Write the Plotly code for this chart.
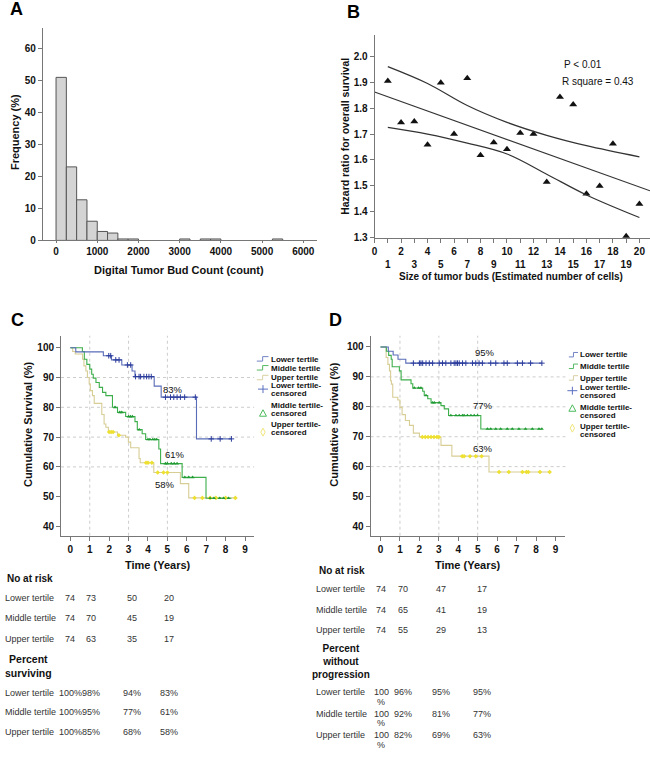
import numpy as np
import plotly.graph_objects as go

W, H = 650, 757
FONT = "Arial, 'Liberation Sans', sans-serif"

# ---------------- Panel A: histogram ----------------
bin_left = [0, 250, 500, 750, 1000, 1250, 1500, 1750, 3000, 3500, 3750, 5250]
bin_freq = [51.0, 23.0, 12.7, 6.0, 2.8, 2.3, 0.45, 0.45, 0.45, 0.45, 0.45, 0.45]
BIN_WIDTH = 250

# ---------------- Panel B: scatter + regression ----------------
bud_size = list(range(1, 21))
hazard_ratio = [1.905, 1.745, 1.748, 1.659, 1.898, 1.700, 1.915, 1.618, 1.667, 1.641,
                1.704, 1.700, 1.515, 1.843, 1.814, 1.470, 1.500, 1.663, 1.306, 1.430]
fit_x = [0, 20.8]
fit_y = [1.862, 1.481]
ci_x = [1, 4, 7, 10, 13, 16, 20]
ci_upper = [1.960, 1.895, 1.810, 1.745, 1.695, 1.655, 1.612]
ci_lower = [1.726, 1.700, 1.665, 1.623, 1.545, 1.465, 1.378]

# ---------------- Panel C: overall survival KM ----------------
c_low_t = [0, 0.28, 1.70, 2.12, 2.65, 3.18, 3.33, 4.32, 4.68, 6.50, 8.30]
c_low_s = [100, 98.6, 97.3, 95.9, 94.2, 92.2, 90.3, 87.1, 83.4, 69.4, 69.4]
c_low_cens = [1.98, 2.08, 2.34, 2.51, 2.94, 3.11, 3.36, 3.54, 3.62, 3.79, 3.93, 4.05, 4.17,
              4.90, 5.16, 5.33, 5.50, 5.67, 5.89, 6.44, 7.26, 7.72, 8.30]
c_mid_t = [0, 0.62, 0.72, 0.85, 1.00, 1.10, 1.18, 1.32, 1.49, 1.66, 1.83, 2.17, 2.43, 2.85,
           3.33, 3.45, 3.70, 3.88, 4.56, 4.65, 5.76, 6.99, 8.30]
c_mid_s = [100, 98.7, 96.1, 94.4, 92.8, 91.1, 89.8, 88.3, 86.7, 85.0, 83.9, 80.0, 78.3, 76.9,
           75.2, 72.5, 71.1, 69.2, 66.0, 61.1, 56.5, 49.5, 49.5]
c_mid_cens = [2.30, 2.55, 2.65, 3.00, 3.10, 3.20, 3.55, 4.00, 4.10, 4.25, 4.35, 4.45, 4.90,
              5.00, 5.20, 5.35, 5.50, 5.90, 6.10, 6.30, 7.20, 7.40, 7.70, 7.90, 8.15]
c_up_t = [0, 0.12, 0.25, 0.63, 0.70, 0.80, 0.88, 0.97, 1.03, 1.14, 1.23, 1.62, 1.74, 1.83,
          1.96, 2.43, 2.85, 2.99, 3.11, 3.54, 3.60, 4.30, 5.67, 6.10, 8.60]
c_up_s = [100, 98.7, 97.9, 96.1, 93.9, 92.2, 90.0, 87.8, 85.6, 83.9, 81.3, 77.6, 74.4, 73.3,
          71.7, 70.6, 70.0, 68.3, 66.4, 62.8, 61.4, 58.1, 54.4, 49.6, 49.6]
c_up_cens = [2.00, 2.10, 2.20, 2.50, 3.90, 4.00, 4.20, 4.50, 4.80, 5.00, 6.40, 6.80, 7.20,
             7.50, 8.00, 8.50]

# ---------------- Panel D: progression-free KM ----------------
d_low_t = [0, 0.40, 0.65, 0.90, 1.30, 8.30]
d_low_s = [100, 98.6, 97.3, 95.9, 94.6, 94.6]
d_low_cens = [1.69, 2.00, 2.08, 2.17, 2.34, 2.51, 2.68, 3.02, 3.19, 3.36, 3.62, 3.79, 3.88,
              3.96, 4.05, 4.22, 4.39, 4.73, 4.90, 5.07, 5.24, 5.67, 5.93, 6.35, 6.52, 7.04,
              7.30, 7.72, 8.30]
d_mid_t = [0, 0.30, 0.42, 0.55, 0.60, 0.97, 1.06, 1.57, 1.66, 2.17, 2.25, 2.43, 2.60, 3.11,
           3.28, 3.50, 5.16, 8.30]
d_mid_s = [100, 98.6, 97.2, 95.9, 93.4, 92.0, 89.0, 87.7, 86.3, 85.2, 83.8, 82.7, 81.4, 80.4,
           79.3, 77.1, 72.6, 72.6]
d_mid_cens = [1.74, 1.96, 2.08, 2.34, 2.68, 2.77, 3.02, 3.62, 3.88, 4.05, 4.22, 4.30, 4.47,
              4.65, 4.82, 4.99, 5.50, 5.67, 5.93, 6.18, 6.52, 6.78, 7.12, 7.46, 7.81, 8.15, 8.30]
d_up_t = [0, 0.29, 0.38, 0.46, 0.52, 0.56, 0.63, 0.89, 1.00, 1.11, 1.28, 1.49, 1.69, 2.00,
          3.11, 3.67, 5.58, 8.70]
d_up_s = [100, 96.5, 94.2, 92.0, 88.7, 87.6, 83.2, 82.3, 79.8, 77.4, 75.4, 73.8, 71.2, 69.9,
          67.1, 63.5, 58.2, 58.2]
d_up_cens = [2.15, 2.30, 2.45, 2.60, 2.75, 2.90, 3.00, 4.20, 4.30, 4.60, 4.90, 5.20, 6.10,
             6.60, 7.30, 7.50, 7.60, 8.20, 8.70]

# ---------------- tables ----------------
risk_times = [0, 1, 3, 5]
tertile_names = ["Lower tertile", "Middle tertile", "Upper tertile"]
c_at_risk = [[74, 73, 50, 20], [74, 70, 45, 19], [74, 63, 35, 17]]
c_pct = [["100%", "98%", "94%", "83%"], ["100%", "95%", "77%", "61%"], ["100%", "85%", "68%", "58%"]]
d_at_risk = [[74, 70, 47, 17], [74, 65, 41, 19], [74, 55, 29, 13]]
d_pct = [["100%", "96%", "95%", "95%"], ["100%", "92%", "81%", "77%"], ["100%", "82%", "69%", "63%"]]
c_end_labels = ["83%", "61%", "58%"]
c_end_pos = [(5.3, 86.0), (5.4, 64.3), (4.9, 54.0)]
d_end_labels = ["95%", "77%", "63%"]
d_end_pos = [(5.36, 98.1), (5.26, 80.5), (5.26, 66.2)]

BLUE_L, BLUE_M = "#5a6cb8", "#2b3c9c"
GREEN_L, GREEN_M = "#3cae4a", "#1f9a32"
TAN_L, YEL_M = "#d7cd95", "#ede031"


def px(x):
    return x / W


def py(y):
    return 1 - y / H


def step_val(times, surv, t):
    i = int(np.searchsorted(times, t, side="right")) - 1
    return surv[max(i, 0)]


fig = go.Figure()

# A
fig.add_trace(go.Bar(x=bin_left, y=bin_freq, width=BIN_WIDTH, offset=0,
                     marker=dict(color="#d4d4d4", line=dict(color="#555555", width=1)),
                     xaxis="x", yaxis="y", showlegend=False))

# B
fig.add_trace(go.Scatter(x=bud_size, y=hazard_ratio, mode="markers",
                         marker=dict(symbol="triangle-up", size=7, color="#111111"),
                         xaxis="x2", yaxis="y2", showlegend=False))
fig.add_trace(go.Scatter(x=fit_x, y=fit_y, mode="lines", line=dict(color="#333333", width=1.2),
                         xaxis="x2", yaxis="y2", showlegend=False))
for ci in (ci_upper, ci_lower):
    fig.add_trace(go.Scatter(x=ci_x, y=ci, mode="lines",
                             line=dict(color="#333333", width=1.2, shape="spline", smoothing=1.0),
                             xaxis="x2", yaxis="y2", showlegend=False))

# C and D KM curves
km_sets = [
    ("x3", "y3", [(c_low_t, c_low_s, c_low_cens, BLUE_L, BLUE_M, "cross-thin"),
                  (c_mid_t, c_mid_s, c_mid_cens, GREEN_L, GREEN_M, "triangle-up"),
                  (c_up_t, c_up_s, c_up_cens, TAN_L, YEL_M, "diamond")]),
    ("x4", "y4", [(d_low_t, d_low_s, d_low_cens, BLUE_L, BLUE_M, "cross-thin"),
                  (d_mid_t, d_mid_s, d_mid_cens, GREEN_L, GREEN_M, "triangle-up"),
                  (d_up_t, d_up_s, d_up_cens, TAN_L, YEL_M, "diamond")]),
]
for xa, ya, sets in km_sets:
    for (tt, ss, cens, lc, mc, sym) in reversed(sets):
        fig.add_trace(go.Scatter(x=tt, y=ss, mode="lines", line=dict(color=lc, width=1.1, shape="hv"),
                                 xaxis=xa, yaxis=ya, showlegend=False))
    for (tt, ss, cens, lc, mc, sym) in reversed(sets):
        cy = [step_val(tt, ss, c) for c in cens]
        if sym == "cross-thin":
            mk = dict(symbol=sym, size=4, line=dict(color=mc, width=1), color=mc)
        else:
            mk = dict(symbol=sym, size=3.5, color=mc, line=dict(width=0))
        fig.add_trace(go.Scatter(x=cens, y=cy, mode="markers", marker=mk,
                                 xaxis=xa, yaxis=ya, showlegend=False))

tick_font = dict(family=FONT, size=10, color="#111111", weight="bold")
axis_common = dict(showline=True, linecolor="#777777", linewidth=1, ticks="outside", ticklen=4,
                   tickcolor="#777777", showgrid=False, zeroline=False, tickfont=tick_font,
                   tickangle=0, ticklabeloverflow="allow")
axis_a_x = dict(axis_common)
axis_a_x["ticklen"] = 2

b_ticktext = [str(v) if v % 2 == 0 else "<br>" + str(v) for v in range(0, 21)]

fig.update_layout(
    width=W, height=H, margin=dict(l=0, r=0, t=0, b=0), autosize=False,
    paper_bgcolor="white", plot_bgcolor="white", showlegend=False,
    xaxis=dict(domain=[px(40), px(315)], range=[-321, 6321], anchor="y",
               tickvals=[0, 1000, 2000, 3000, 4000, 5000, 6000], **axis_a_x),
    yaxis=dict(domain=[py(242), py(28)], range=[0, 66.5], anchor="x",
               tickvals=[0, 10, 20, 30, 40, 50, 60], **axis_common),
    xaxis2=dict(domain=[px(373.3), px(650)], range=[0, 20.8], anchor="y2",
                tickvals=list(range(0, 21)), ticktext=b_ticktext, **axis_common),
    yaxis2=dict(domain=[py(239.3), py(35)], range=[1.3, 2.083], anchor="x2",
                tickvals=[1.3, 1.4, 1.5, 1.6, 1.7, 1.8, 1.9, 2.0], tickformat=".1f", **axis_common),
    xaxis3=dict(domain=[px(58.3), px(252.3)], range=[-0.48, 9.47], anchor="y3",
                tickvals=list(range(0, 10)), **axis_common),
    yaxis3=dict(domain=[py(539.3), py(338)], range=[36.9, 104], anchor="x3",
                tickvals=[40, 50, 60, 70, 80, 90, 100], **axis_common),
    xaxis4=dict(domain=[px(369.3), px(565)], range=[-0.51, 9.51], anchor="y4",
                tickvals=list(range(0, 10)), **axis_common),
    yaxis4=dict(domain=[py(539.3), py(338)], range=[36.9, 103.75], anchor="x4",
                tickvals=[40, 50, 60, 70, 80, 90, 100], **axis_common),
)

shapes = []
annotations = []

# dotted reference grid in C and D
grid_times = [1, 3, 5]
grid_surv = [60, 70, 80, 90]
for xa, ya in (("x3", "y3"), ("x4", "y4")):
    for g in grid_times:
        shapes.append(dict(type="line", xref=xa, yref=ya + " domain", x0=g, x1=g, y0=0, y1=1,
                           line=dict(color="#cccccc", width=1, dash="dot"), layer="below"))
    for g in grid_surv:
        shapes.append(dict(type="line", xref=xa + " domain", yref=ya, x0=0, x1=1, y0=g, y1=g,
                           line=dict(color="#cccccc", width=1, dash="dot"), layer="below"))


def txt(x, y, s, size=9, bold=False, anchor="left", color="#222222", angle=0, yanchor="middle"):
    annotations.append(dict(x=px(x), y=py(y), xref="paper", yref="paper", text=s, showarrow=False,
                            xanchor=anchor, yanchor=yanchor, textangle=angle, borderpad=0,
                            font=dict(family=FONT, size=size, color=color,
                                      weight="bold" if bold else "normal")))


# panel letters
txt(13.5, 9, "A", size=18, bold=True, anchor="center", color="#000000")
txt(351.7, 12, "B", size=18, bold=True, anchor="center", color="#000000")
txt(15, 322, "C", size=18, bold=True, anchor="center", color="#000000")
txt(334, 322, "D", size=18, bold=True, anchor="center", color="#000000")

# axis titles
txt(177, 272, "Digital Tumor Bud Count (count)", size=11, bold=True, anchor="center", color="#111111")
txt(12, 133, "Frequency (%)", size=11, bold=True, anchor="center", color="#111111", angle=-90)
txt(510.5, 278, "Size of tumor buds (Estimated number of cells)", size=10, bold=True,
    anchor="center", color="#111111")
txt(343.3, 137, "Hazard ratio for overall survival", size=10.5, bold=True, anchor="center",
    color="#111111", angle=-90)
txt(563, 65, "P &lt; 0.01", size=10, anchor="left", color="#111111")
txt(561, 82, "R square = 0.43", size=10, anchor="left", color="#111111")

txt(25, 427, "Cumulative Survival (%)", size=11, bold=True, anchor="center", color="#111111", angle=-90)
txt(155.8, 569, "Time (Years)", size=11, bold=True, anchor="center", color="#111111")
txt(333, 427, "Cumulative survival (%)", size=11, bold=True, anchor="center", color="#111111", angle=-90)
txt(467, 569, "Time (Years)", size=11, bold=True, anchor="center", color="#111111")

# end-of-curve percentages
for xa, ya, labs, pos in (("x3", "y3", c_end_labels, c_end_pos), ("x4", "y4", d_end_labels, d_end_pos)):
    for lab, (tx, sy) in zip(labs, pos):
        annotations.append(dict(x=tx, y=sy, xref=xa, yref=ya, text=lab, showarrow=False,
                                xanchor="center", yanchor="middle",
                                font=dict(family=FONT, size=9.5, color="#111111")))

# legends (drawn as text + icons)
leg_names = ["Lower tertile", "Middle tertile", "Upper tertile"]
leg_cens = [("Lower tertile-", "censored"), ("Middle tertile-", "censored"), ("Upper tertile-", "censored")]
leg_line_cols = ["#7283c4", "#55b962", "#d8d0a2"]
leg_mark_cols = ["#5b6fc0", "#4cbb5c", "#f0e67a"]


def legend(text_x, line_ys, icon_x0, icon_x1, mark_x, mark_ys):
    for i, nm in enumerate(leg_names):
        txt(text_x, line_ys[i], nm, size=8, bold=True, color="#111111")
        y = line_ys[i]
        xm = (icon_x0 + icon_x1) / 2
        path = "M {} {} L {} {} L {} {} L {} {}".format(
            px(icon_x0), py(y + 2), px(xm), py(y + 2), px(xm), py(y - 2.5), px(icon_x1), py(y - 2.5))
        shapes.append(dict(type="path", xref="paper", yref="paper", path=path,
                           line=dict(color=leg_line_cols[i], width=1)))
    for i, (l1, l2) in enumerate(leg_cens):
        txt(text_x, line_ys[3 + 2 * i], l1, size=8, bold=True, color="#111111")
        txt(text_x, line_ys[4 + 2 * i], l2, size=8, bold=True, color="#111111")
    mx, my = mark_x, mark_ys[0]
    shapes.append(dict(type="line", xref="paper", yref="paper", x0=px(mx - 5), x1=px(mx + 5),
                       y0=py(my), y1=py(my), line=dict(color=leg_mark_cols[0], width=1)))
    shapes.append(dict(type="line", xref="paper", yref="paper", x0=px(mx), x1=px(mx),
                       y0=py(my - 4), y1=py(my + 4), line=dict(color=leg_mark_cols[0], width=1)))
    my = mark_ys[1]
    path = "M {} {} L {} {} L {} {} Z".format(px(mx - 3.5), py(my + 3), px(mx + 3.5), py(my + 3),
                                              px(mx), py(my - 3.5))
    shapes.append(dict(type="path", xref="paper", yref="paper", path=path,
                       line=dict(color=leg_mark_cols[1], width=1)))
    my = mark_ys[2]
    path = "M {} {} L {} {} L {} {} L {} {} Z".format(px(mx), py(my - 4), px(mx + 2.2), py(my),
                                                      px(mx), py(my + 4), px(mx - 2.2), py(my))
    shapes.append(dict(type="path", xref="paper", yref="paper", path=path,
                       line=dict(color=leg_mark_cols[2], width=1)))


legend(268.3, [361.5, 370.5, 380.3, 387.6, 396.2, 408.2, 416.3, 427.5, 435.5],
       255, 266.7, 261.2, [391.7, 416, 435])
legend(578.3, [357.3, 369, 380.7, 389.8, 397.8, 410.6, 418.4, 429.6, 437.5],
       568.5, 577.7, 572, [393.3, 411, 431])

# tables
c_cols = [67.5, 88.5, 130, 167]
d_cols = [380, 402, 440, 481]

txt(3, 582, "No at risk", size=10, bold=True, color="#111111")
for i, nm in enumerate(tertile_names):
    y = [602, 622, 643][i]
    txt(1, y, nm, size=9, color="#333333")
    for j in range(len(risk_times)):
        txt(c_cols[j], y, str(c_at_risk[i][j]), size=9, anchor="center", color="#333333")
txt(26, 670, "Percent<br>surviving", size=10.5, bold=True, anchor="center", color="#111111")
for i, nm in enumerate(tertile_names):
    y = [697.7, 717, 737.3][i]
    txt(1, y, nm, size=9, color="#333333")
    for j in range(len(risk_times)):
        txt(c_cols[j], y, c_pct[i][j], size=9, anchor="center", color="#333333")

txt(341, 574, "No at risk", size=10, bold=True, anchor="center", color="#111111")
for i, nm in enumerate(tertile_names):
    y = [593.3, 613.7, 634][i]
    txt(313, y, nm, size=9, color="#333333")
    for j in range(len(risk_times)):
        txt(d_cols[j], y, str(d_at_risk[i][j]), size=9, anchor="center", color="#333333")
txt(340, 666, "Percent<br>without<br>progression", size=10, bold=True, anchor="center", color="#111111")
for i, nm in enumerate(tertile_names):
    y = [696.7, 718.3, 739.8][i]
    txt(313, y, nm, size=9, color="#333333")
    for j in range(len(risk_times)):
        val = d_pct[i][j]
        if j == 0:
            # the first column wraps in the reference: number on one line, '%' below
            txt(d_cols[j], y, val[:-1], size=9, anchor="center", color="#333333")
            txt(d_cols[j], y + 10.0, val[-1], size=9, anchor="center", color="#333333")
        else:
            txt(d_cols[j], y, val, size=9, anchor="center", color="#333333")

fig.update_layout(shapes=shapes, annotations=annotations)
# remove the browser's default 8px page margin so the 650x757 figure fills the window exactly
fig.write_html("out.html", config={"displayModeBar": False},
               post_script="document.body.style.margin='0px';document.body.style.overflow='hidden';")
